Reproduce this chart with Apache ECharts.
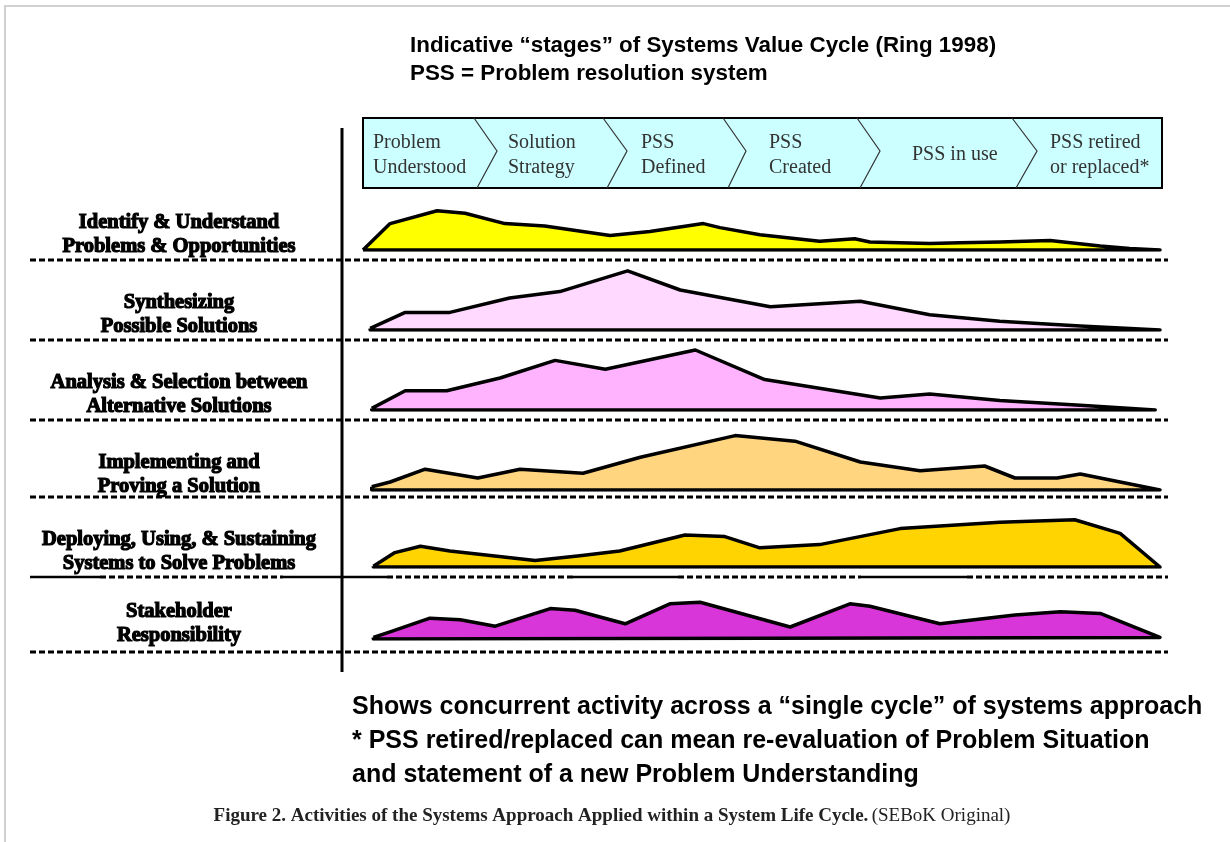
<!DOCTYPE html>
<html>
<head>
<meta charset="utf-8">
<script src="https://cdn.jsdelivr.net/npm/echarts@6/dist/echarts.min.js"></script>
<style>
  html, body { margin: 0; padding: 0; background: #fff; }
  #chart { width: 1230px; height: 842px; }
</style>
</head>
<body>
<div id="chart"></div>
<script>
// stages of the systems value cycle (header chevrons)
const stageLabels = ['Problem\nUnderstood', 'Solution\nStrategy', 'PSS\nDefined', 'PSS\nCreated', 'PSS in use', 'PSS retired\nor replaced*']

// activity rows (left labels)
const activityLabels = [
  'Identify & Understand\nProblems & Opportunities',
  'Synthesizing\nPossible Solutions',
  'Analysis & Selection between\nAlternative Solutions',
  'Implementing and\nProving a Solution',
  'Deploying, Using, & Sustaining\nSystems to Solve Problems',
  'Stakeholder\nResponsibility'
]

// progress through the cycle (0-100) and relative activity level (0-8)
const identifyX = [0, 3.4, 9.3, 12.8, 17.8, 22.8, 31.0, 36.0, 42.7, 44.8, 49.8, 57.3, 61.7, 63.6, 71.1, 74.9, 79.9, 86.2, 92.5, 96.2, 100]
const identifyY = [0, 3.3, 4.9, 4.6, 3.3, 3.0, 1.8, 2.3, 3.3, 2.8, 1.9, 1.1, 1.4, 1.0, 0.8, 0.9, 1.0, 1.2, 0.5, 0.2, 0]

const synthX = [0.9, 5.3, 10.9, 18.4, 24.7, 33.2, 39.8, 51.1, 62.4, 71.1, 79.9, 90.0, 100]
const synthY = [0.2, 2.2, 2.2, 4.0, 4.8, 7.4, 5.0, 2.9, 3.6, 1.9, 1.1, 0.5, 0]

const analysisX = [1.1, 5.3, 10.5, 17.2, 24.1, 30.4, 41.7, 50.4, 64.9, 71.1, 79.9, 90.0, 99.4]
const analysisY = [0.2, 2.4, 2.4, 4.0, 6.2, 5.1, 7.5, 3.8, 1.5, 2.0, 1.2, 0.6, 0]

const implementX = [1.1, 3.4, 7.8, 14.4, 19.7, 27.6, 34.8, 46.7, 54.2, 62.4, 69.9, 78.0, 81.8, 87.1, 90.0, 95.0, 100]
const implementY = [0.4, 1.0, 2.6, 1.5, 2.6, 2.1, 4.1, 6.8, 6.1, 3.5, 2.4, 3.0, 1.5, 1.5, 2.0, 1.0, 0]

const deployX = [1.3, 4.0, 7.2, 10.9, 21.6, 27.2, 32.2, 40.4, 45.4, 49.8, 57.3, 67.4, 79.9, 89.3, 95.0, 100]
const deployY = [0.1, 1.8, 2.6, 2.0, 0.8, 1.4, 2.0, 4.0, 3.8, 2.4, 2.8, 4.8, 5.6, 5.9, 4.2, 0]

const stakeX = [1.3, 3.4, 8.4, 12.2, 16.6, 23.5, 26.6, 32.9, 38.5, 42.3, 53.6, 61.1, 63.6, 72.4, 81.8, 87.5, 92.5, 100]
const stakeY = [0.2, 0.9, 2.6, 2.4, 1.6, 3.8, 3.6, 1.9, 4.4, 4.6, 1.5, 4.4, 4.1, 1.9, 3.0, 3.4, 3.2, 0.2]

const rowsX = [identifyX, synthX, analysisX, implementX, deployX, stakeX]
const rowsY = [identifyY, synthY, analysisY, implementY, deployY, stakeY]
const fills = ['#ffff00', '#ffd9ff', '#ffb3ff', '#ffd580', '#ffd400', '#d936d9']

// layout
const plotLeft = 363
const plotWidth = 797
const rowBase = [250, 330, 410, 490, 567, 639]  // baseline of each area
const rowSep = [260, 340, 420, 497, 577, 652]   // separator lines
const rowH = 64
const labelCx = 179

let myChart = echarts.init(document.getElementById('chart'))

let grids = [], xAxes = [], yAxes = [], series = []
rowsX.forEach((xs, i) => {
  grids.push({ left: plotLeft, width: plotWidth, top: rowBase[i] - rowH, height: rowH })
  xAxes.push({ type: 'value', gridIndex: i, min: 0, max: 100, show: false })
  yAxes.push({ type: 'value', gridIndex: i, min: 0, max: 8, show: false })
  let pts = xs.map((x, k) => [x, rowsY[i][k]])
  // close the outline along the base line
  pts.push([xs[xs.length - 1], 0], [xs[0], 0], [xs[0], rowsY[i][0]])
  series.push({
    type: 'line',
    xAxisIndex: i,
    yAxisIndex: i,
    data: pts,
    symbol: 'none',
    silent: true,
    lineStyle: { color: '#000', width: 3.5, join: 'round' },
    areaStyle: { color: fills[i], opacity: 1 }
  })
})

let graphics = []
// frame
graphics.push({ type: 'polyline', shape: { points: [[5, 842], [5, 6], [1230, 6]] }, style: { stroke: '#d0d0d0', lineWidth: 2, fill: null } })

// titles
graphics.push({
  type: 'text', left: 410, top: 32,
  style: { text: 'Indicative \u201cstages\u201d of Systems Value Cycle (Ring 1998)\nPSS = Problem resolution system', font: 'bold 22.4px "Liberation Sans", Arial', fill: '#000', lineHeight: 28 }
})

// header box with chevrons
graphics.push({ type: 'rect', shape: { x: 363, y: 118, width: 799, height: 70 }, style: { fill: '#ccffff', stroke: '#000', lineWidth: 2 } })
const chevronX = [[474, 497, 477], [603, 627, 607], [723, 746, 728], [857, 880, 860], [1012, 1037, 1016]]
chevronX.forEach(c => {
  graphics.push({ type: 'polyline', shape: { points: [[c[0], 118], [c[1], 151], [c[2], 188]] }, style: { stroke: '#333', lineWidth: 1.2, fill: null } })
})
const stageTextX = [373, 508, 641, 769, 912, 1050]
stageLabels.forEach((s, i) => {
  graphics.push({
    type: 'text', x: stageTextX[i], y: 155,
    style: { text: s, font: '20px "Liberation Serif", "Times New Roman", serif', fill: '#333', lineHeight: 25, verticalAlign: 'middle', align: 'left' }
  })
})

// vertical divider
graphics.push({ type: 'line', shape: { x1: 342, y1: 128, x2: 342, y2: 672 }, style: { stroke: '#000', lineWidth: 3 } })

// separators
rowSep.forEach((y, i) => {
  if (i === 4) {
    const segs = [[30, 100, 0], [100, 283, 1], [283, 387, 0], [387, 573, 1], [573, 678, 0], [678, 861, 1], [861, 967, 0], [967, 1168, 1]]
    segs.forEach(s => {
      graphics.push({ type: 'line', shape: { x1: s[0], y1: y, x2: s[1], y2: y }, style: { stroke: '#000', lineWidth: s[2] ? 3 : 2.5, lineDash: s[2] ? [6, 3] : null } })
    })
  } else {
    graphics.push({ type: 'line', shape: { x1: 30, y1: y, x2: 1168, y2: y }, style: { stroke: '#000', lineWidth: 3, lineDash: [6, 3] } })
  }
})

// activity labels
activityLabels.forEach((s, i) => {
  graphics.push({
    type: 'text', x: labelCx, y: rowBase[i] - 15,
    style: { text: s, font: 'bold 20.5px "Liberation Serif", "Times New Roman", serif', fill: '#000', lineHeight: 24, align: 'center', verticalAlign: 'middle', stroke: '#000', lineWidth: 1.2 }
  })
})

// notes
graphics.push({
  type: 'text', left: 352, top: 690,
  style: {
    text: 'Shows concurrent activity across a \u201csingle cycle\u201d of systems approach\n* PSS retired/replaced can mean re-evaluation of Problem Situation\nand statement of a new Problem Understanding',
    font: 'bold 25px "Liberation Sans", Arial', fill: '#000', lineHeight: 34
  }
})

// caption
graphics.push({
  type: 'text', x: 612, y: 816,
  style: {
    text: '{b|Figure 2. Activities of the Systems Approach Applied within a System Life Cycle.} {n|(SEBoK Original)}',
    align: 'center', verticalAlign: 'middle',
    rich: {
      b: { font: 'bold 19px "Liberation Serif", "Times New Roman", serif', fill: '#222' },
      n: { font: '19px "Liberation Serif", "Times New Roman", serif', fill: '#222' }
    }
  }
})

var option = {
  animation: false,
  backgroundColor: '#fff',
  grid: grids,
  xAxis: xAxes,
  yAxis: yAxes,
  series: series,
  graphic: graphics
}
myChart.setOption(option)
</script>
</body>
</html>
